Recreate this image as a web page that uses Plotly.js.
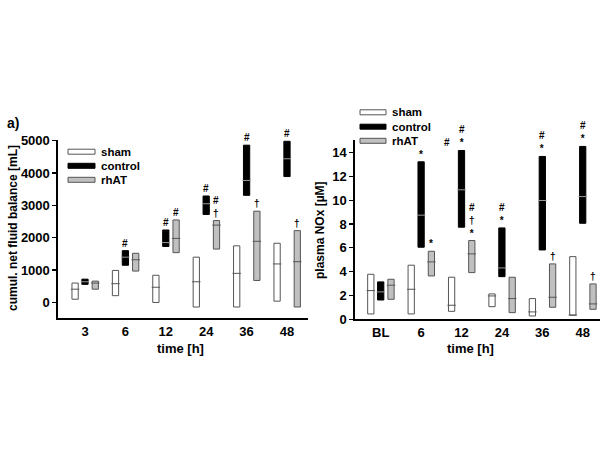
<!DOCTYPE html>
<html>
<head>
<meta charset="utf-8">
<script src="https://cdn.plot.ly/plotly-3.0.1.min.js"></script>
<style>html,body{margin:0;padding:0;background:#fff}#chart{width:600px;height:450px}</style>
</head>
<body>
<div id="chart"></div>
<script>
// ---- Data ----
const fluidCats = ['3', '6', '12', '24', '36', '48'];
const fluidShamLow  = [100, 210, 0, -140, -140, 40];
const fluidShamMed  = [410, 580, 470, 640, 900, 1190];
const fluidShamHigh = [600, 990, 840, 1400, 1750, 1830];
const fluidCtrlLow  = [560, 1150, 1730, 2720, 3310, 3890];
const fluidCtrlMed  = [640, 1400, 1850, 3050, 3770, 4440];
const fluidCtrlHigh = [720, 1600, 2240, 3290, 4860, 4980];
const fluidRhatLow  = [410, 970, 1540, 1650, 680, -140];
const fluidRhatMed  = [600, 1320, 1980, 2390, 1890, 1260];
const fluidRhatHigh = [660, 1520, 2550, 2530, 2820, 2220];
const fluidCtrlSig  = ['', '#', '#', '#', '#', '#'];
const fluidRhatSig  = ['', '', '#', '#<br>†', '†', '†'];

const noxCats = ['BL', '6', '12', '24', '36', '48'];
const noxShamLow  = [0.45, 0.45, 0.67, 1.06, 0.28, 0.34];
const noxShamMed  = [2.41, 2.52, 1.18, 1.96, 0.62, 0.36];
const noxShamHigh = [3.78, 4.54, 3.53, 2.13, 1.74, 5.26];
const noxCtrlLow  = [1.62, 6.05, 7.73, 3.58, 5.82, 8.06];
const noxCtrlMed  = [2.30, 8.74, 10.87, 4.31, 9.97, 10.30];
const noxCtrlHigh = [3.14, 13.22, 14.17, 7.67, 13.67, 14.51];
const noxRhatLow  = [1.68, 3.64, 3.92, 0.56, 1.01, 0.84];
const noxRhatMed  = [2.86, 4.82, 5.49, 1.74, 1.85, 1.29];
const noxRhatHigh = [3.36, 5.71, 6.61, 3.53, 4.65, 2.97];
const noxCtrlSig  = ['', '*', '#<br>*', '#<br>*', '#<br>*', '#<br>*'];
const noxRhatSig  = ['', '*', '#<br>†<br>*', '', '†', '†'];

const seriesNames = ['sham', 'control', 'rhAT'];

// ---- Styles ----
const FONT = 'Liberation Sans, Arial, sans-serif';
const styles = [
  {fill: '#ffffff', edge: '#555555', med: '#555555', off: -0.245},
  {fill: '#000000', edge: '#000000', med: '#9a9a9a', off: 0.0},
  {fill: '#c0c0c0', edge: '#555555', med: '#555555', off: 0.255}
];
const BW = 0.155;

const traces = [];
const annotations = [];
const shapes = [];

function addPanel(cats, lows, meds, highs, xa, ya) {
  const idx = cats.map((c, i) => i);
  lows.forEach((low, s) => {
    const st = styles[s];
    const xs = idx.map(i => i + st.off);
    traces.push({
      type: 'bar', x: xs, base: low, y: highs[s].map((h, i) => h - low[i]),
      width: BW, xaxis: xa, yaxis: ya, showlegend: false, hoverinfo: 'skip',
      marker: {color: st.fill, line: {color: st.edge, width: 1}}
    });
    traces.push({
      type: 'scatter', mode: 'markers', x: xs, y: meds[s], xaxis: xa, yaxis: ya,
      showlegend: false, hoverinfo: 'skip',
      marker: {symbol: 'line-ew', size: 6, color: st.med, line: {color: st.med, width: 1}}
    });
  });
}

addPanel(fluidCats, [fluidShamLow, fluidCtrlLow, fluidRhatLow],
         [fluidShamMed, fluidCtrlMed, fluidRhatMed],
         [fluidShamHigh, fluidCtrlHigh, fluidRhatHigh], 'x', 'y');
addPanel(noxCats, [noxShamLow, noxCtrlLow, noxRhatLow],
         [noxShamMed, noxCtrlMed, noxRhatMed],
         [noxShamHigh, noxCtrlHigh, noxRhatHigh], 'x2', 'y2');

const sigFont = {family: FONT, size: 10, color: '#000', weight: 'bold'};
function addSig(labels, highs, off, xa, ya) {
  labels.forEach((t, i) => {
    if (!t) return;
    annotations.push({
      x: i + off, y: highs[i], xref: xa, yref: ya, text: t, showarrow: false,
      xanchor: 'center', yanchor: 'bottom', yshift: 0, font: sigFont
    });
  });
}
addSig(fluidCtrlSig, fluidCtrlHigh, styles[1].off, 'x', 'y');
addSig(fluidRhatSig, fluidRhatHigh, styles[2].off, 'x', 'y');
addSig(noxCtrlSig, noxCtrlHigh, styles[1].off, 'x2', 'y2');
addSig(noxRhatSig, noxRhatHigh, styles[2].off, 'x2', 'y2');
// the '#' of control at 6 h is printed to the right of its asterisk in the original
annotations.push({
  x: 1 + styles[1].off, y: noxCtrlHigh[1], xref: 'x2', yref: 'y2', text: '#',
  showarrow: false, xanchor: 'center', yanchor: 'bottom', xshift: 26, yshift: 12,
  font: sigFont
});

// ---- Legends (drawn manually, wide rectangles) ----
function addLegend(x0, x1, ys, tx) {
  seriesNames.forEach((n, s) => {
    const st = styles[s];
    shapes.push({
      type: 'rect', xref: 'paper', yref: 'paper',
      x0: x0 / 600, x1: x1 / 600, y0: 1 - (ys[s] + 2.5) / 450, y1: 1 - (ys[s] - 2.5) / 450,
      fillcolor: st.fill, line: {color: st.edge, width: 1}
    });
    annotations.push({
      xref: 'paper', yref: 'paper', x: tx / 600, y: 1 - ys[s] / 450, text: '<b>' + n + '</b>',
      showarrow: false, xanchor: 'left', yanchor: 'middle',
      font: {family: FONT, size: 11.5, color: '#000'}
    });
  });
}
addLegend(68, 95, [151.7, 165.8, 179.8], 99);
addLegend(360, 386, [112.3, 126.7, 140.8], 390);

// ---- Titles as text ----
const textAnn = (x, y, t, size, angle) => annotations.push({
  xref: 'paper', yref: 'paper', x: x / 600, y: 1 - y / 450, text: '<b>' + t + '</b>',
  showarrow: false, xanchor: 'center', yanchor: 'middle', textangle: angle || 0,
  font: {family: FONT, size: size, color: '#000'}
});
textAnn(13, 123, 'a)', 14);
textAnn(13, 228, 'cumul. net fluid balance [mL]', 12, -90);
textAnn(320, 230, 'plasma NOx [µM]', 12, -90);
textAnn(180, 348, 'time [h]', 13);
textAnn(470, 348, 'time [h]', 13);

const tickFont = {family: FONT, size: 13, color: '#000', weight: 'bold'};
const axX = (dom, rng, cats) => ({
  domain: dom, range: rng, tickmode: 'array', tickvals: cats.map((c, i) => i),
  ticktext: cats.map(c => '<b>' + c + '</b>'), showline: true, linecolor: '#000', linewidth: 2,
  ticks: '', showgrid: false, zeroline: false, tickfont: tickFont, fixedrange: true
});
const axY = (dom, rng, dt, anchor) => ({
  domain: dom, range: rng, dtick: dt, tick0: 0, showline: true, linecolor: '#000', linewidth: 1.6,
  ticks: 'outside', ticklen: 4, tickwidth: 1.3, tickcolor: '#000', showgrid: false,
  zeroline: false, tickfont: tickFont, anchor: anchor, fixedrange: true,
  tickformat: 'd'
});

const layout = {
  width: 600, height: 450, margin: {l: 0, r: 0, t: 0, b: 0},
  paper_bgcolor: '#fff', plot_bgcolor: '#fff', showlegend: false,
  barmode: 'overlay',
  xaxis: axX([58 / 600, 308 / 600], [-0.668, 5.52], fluidCats),
  yaxis: axY([1 - 318 / 450, 1 - 140 / 450], [-480, 5020], 1000, 'x'),
  xaxis2: Object.assign(axX([355 / 600, 1], [-0.636, 5.428], noxCats), {anchor: 'y2'}),
  yaxis2: axY([1 - 319.3 / 450, 1 - 140 / 450], [0, 15.05], 2, 'x2'),
  annotations: annotations, shapes: shapes
};
layout.xaxis.anchor = 'y';

Plotly.newPlot('chart', traces, layout, {staticPlot: true, displayModeBar: false});
</script>
</body>
</html>
